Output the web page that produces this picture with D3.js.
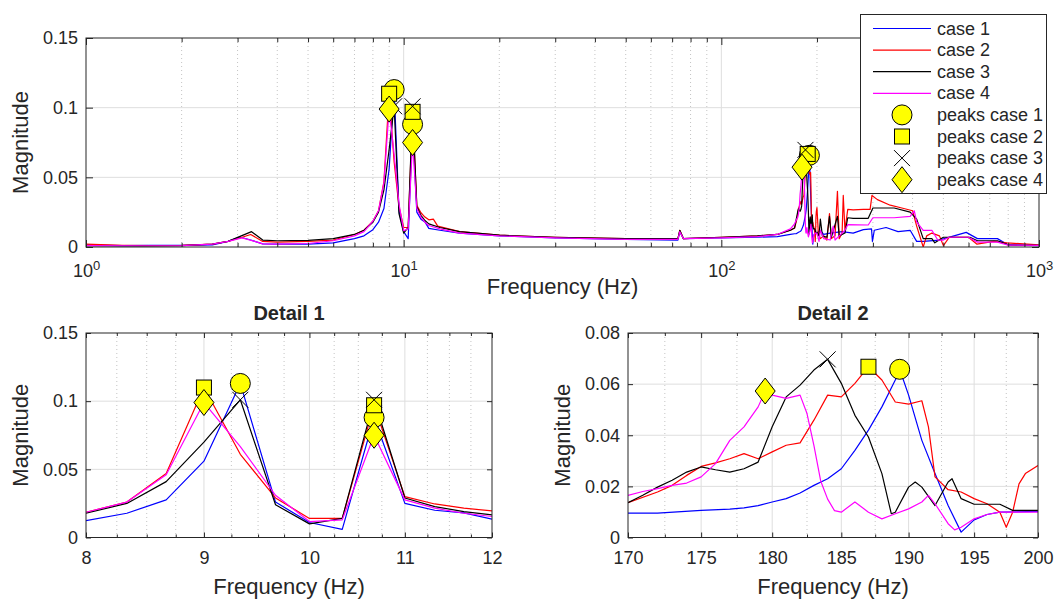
<!DOCTYPE html>
<html>
<head>
<meta charset="utf-8">
<script src="https://cdnjs.cloudflare.com/ajax/libs/d3/7.8.5/d3.min.js"></script>
<style>
  body { margin: 0; background: #fff; }
  text { font-family: "Liberation Sans", Arial, sans-serif; fill: #262626; }
</style>
</head>
<body>
<div id="graph"></div>
<script>

// ---- data: [frequency Hz, magnitude] ----
var case1 = [
  [1,0.0015],[1.3,0.001],[1.6,0.0012],[2,0.0012],[2.5,0.0015],[2.8,0.004],[3.05,0.0072],[3.3,0.005],[3.6,0.0022],
  [4,0.002],[5,0.002],[6,0.003],[7,0.006],[7.5,0.008],
  [8,0.0124],[8.333,0.0178],[8.667,0.0276],[9,0.056],[9.333,0.113],[9.667,0.026],[10,0.011],[10.333,0.006],
  [10.667,0.088],[11,0.025],[11.333,0.020],[11.667,0.018],[12,0.0134],
  [13,0.012],[15,0.01],[20,0.008],[30,0.0065],[50,0.0055],[73,0.005],[74,0.011],[76,0.006],[100,0.0065],
  [130,0.007],[150,0.0075],[165,0.009],
  [170,0.0095],[172,0.0095],[175,0.0106],[177,0.0111],[178,0.0116],[179,0.0125],[180,0.0139],[181,0.0152],
  [182,0.0174],[183,0.0204],[184,0.023],[185,0.0269],[186,0.0341],[187,0.042],[188,0.0511],[189,0.0616],
  [189.33,0.0658],[190,0.0557],[191,0.038],[192,0.025],[193,0.0125],[194,0.0021],[195,0.0069],[196,0.009],
  [197,0.0099],[200,0.0102],
  [205,0.012],[210,0.009],[220,0.01],[240,0.011],[260,0.01],[280,0.0125],[297,0.013],[299,0.004],[303,0.012],
  [330,0.014],[360,0.011],[393,0.012],[412,0.004],[432,0.004],[486,0.005],[540,0.008],[590,0.0105],
  [640,0.006],[740,0.006],[800,0.0015],[1000,0.001]
];
var case2 = [
  [1,0.002],[1.3,0.0012],[1.6,0.001],[2,0.0012],[2.5,0.002],[2.8,0.004],[3.1,0.007],[3.3,0.009],[3.6,0.004],
  [4,0.0035],[5,0.004],[6,0.005],[7,0.009],[7.5,0.012],
  [8,0.0185],[8.333,0.026],[8.667,0.047],[9,0.110],[9.333,0.061],[9.667,0.029],[10,0.014],[10.333,0.014],
  [10.667,0.097],[11,0.030],[11.333,0.0246],[11.667,0.0215],[12,0.0195],
  [12.4,0.02],[12.8,0.015],[15,0.011],[20,0.0085],[30,0.007],[50,0.006],[73,0.006],[74,0.012],[76,0.006],
  [100,0.007],[130,0.008],[150,0.009],[165,0.012],
  [170,0.0136],[172,0.0178],[173,0.0204],[174,0.0243],[175,0.0278],[176,0.0292],[177,0.0308],[178,0.0328],
  [179,0.0308],[180,0.0335],[181,0.0361],[182,0.037],[183,0.0459],[184,0.0557],[185,0.055],[186,0.0603],
  [187,0.0668],[188,0.0616],[189,0.053],[190,0.0522],[191,0.0535],[191.5,0.0433],[192,0.0237],[193,0.0187],
  [194,0.0178],[195,0.0152],[196,0.0132],[197,0.0099],[197.5,0.004],[198,0.0099],[198.5,0.021],[199,0.025],
  [200,0.0282],
  [202,0.01],[205,0.006],[210,0.008],[215,0.005],[219,0.024],[222,0.006],[228,0.008],[232,0.04],[235,0.006],
  [240,0.01],[242,0.037],[245,0.012],[250,0.027],[260,0.0266],[280,0.027],[294,0.027],[298,0.037],[310,0.034],
  [340,0.03],[370,0.028],[400,0.026],[412,0.015],[432,0.0],[443,0.008],[460,0.01],[486,0.008],[500,0.001],
  [522,0.007],[600,0.007],[638,0.002],[720,0.004],[794,0.003],[1000,0.0015]
];
var case3 = [
  [1,0.001],[1.5,0.0008],[2,0.001],[2.5,0.002],[2.8,0.004],[3.32,0.011],[3.6,0.005],[4,0.0045],[5,0.0048],
  [6,0.006],[7,0.009],[7.5,0.012],
  [8,0.0178],[8.333,0.025],[8.667,0.041],[9,0.070],[9.333,0.101],[9.667,0.024],[10,0.010],[10.333,0.014],
  [10.667,0.101],[11,0.029],[11.333,0.0227],[11.667,0.019],[12,0.0166],
  [13,0.014],[15,0.011],[20,0.0085],[30,0.007],[50,0.006],[73,0.006],[74,0.012],[76,0.006],[100,0.007],
  [130,0.008],[150,0.009],[165,0.012],
  [170,0.0136],[171,0.0165],[172,0.0197],[173,0.0224],[174,0.0256],[175,0.0276],[176,0.0265],[177,0.0256],
  [178,0.0269],[179,0.0295],[180,0.0433],[181,0.055],[182,0.0596],[183,0.0655],[184,0.0697],[185,0.0603],
  [186,0.0478],[187,0.0393],[188,0.025],[188.7,0.0093],[189,0.0099],[190,0.0197],[190.5,0.0217],[191,0.0197],
  [192,0.0125],[193,0.0217],[193.3,0.023],[194,0.0152],[195,0.013],[197,0.013],[198,0.0106],[200,0.0106],
  [203,0.008],[205,0.02],[208,0.008],[215,0.007],[219,0.022],[222,0.007],[232,0.022],[235,0.008],[245,0.01],
  [250,0.021],[260,0.0206],[290,0.0206],[300,0.028],[350,0.028],[393,0.025],[412,0.02],[432,0.006],
  [460,0.006],[470,0.003],[500,0.007],[606,0.007],[640,0.0045],[740,0.0045],[800,0.0015],[1000,0.0012]
];
var case4 = [
  [1,0.001],[1.5,0.0009],[2,0.001],[2.5,0.002],[2.8,0.004],[3.1,0.0065],[3.4,0.004],[3.6,0.0022],[4,0.002],
  [5,0.0025],[6,0.0045],[7,0.008],[7.5,0.011],
  [8,0.0185],[8.333,0.026],[8.667,0.046],[9,0.099],[9.333,0.0666],[9.667,0.031],[10,0.0117],[10.333,0.013],
  [10.667,0.075],[11,0.0276],[11.333,0.0215],[11.667,0.0178],[12,0.0154],
  [13,0.013],[15,0.01],[20,0.008],[30,0.0065],[50,0.0055],[73,0.0055],[74,0.011],[76,0.006],[100,0.0065],
  [130,0.0075],[150,0.009],[165,0.013],
  [170,0.0165],[171,0.018],[172,0.0191],[173,0.0204],[174,0.0213],[175,0.0237],[176,0.0289],[177,0.038],
  [178,0.0433],[179,0.0511],[179.5,0.0573],[180,0.0557],[181,0.0544],[182,0.0557],[182.5,0.0485],[183,0.036],
  [183.5,0.022],[184,0.015],[184.5,0.0105],[185,0.0099],[186,0.0139],[187,0.0099],[188,0.0073],[189,0.0093],
  [190,0.0112],[191,0.0139],[191.5,0.0165],[192,0.0132],[193,0.0054],[193.5,0.003],[194,0.004],[195,0.0073],
  [196,0.009],[197,0.0099],[200,0.0099],
  [203,0.004],[205,0.012],[210,0.006],[220,0.005],[225,0.015],[228,0.005],[240,0.01],[245,0.012],[250,0.016],
  [290,0.0158],[300,0.021],[350,0.021],[393,0.022],[405,0.026],[412,0.018],[432,0.012],[460,0.012],
  [480,0.005],[500,0.005],[522,0.007],[600,0.007],[640,0.0035],[740,0.0035],[800,0.0014],[1000,0.0012]
];

// detected peaks
var peaks1 = [[9.333,0.113],[10.667,0.088],[189.33,0.0658]];
var peaks2 = [[9,0.110],[10.667,0.097],[187,0.0668]];
var peaks3 = [[9.333,0.101],[10.667,0.101],[184,0.0697]];
var peaks4 = [[9,0.099],[10.667,0.075],[179.5,0.0573]];

var caseNames  = ['case 1','case 2','case 3','case 4'];
var peakNames  = ['peaks case 1','peaks case 2','peaks case 3','peaks case 4'];
var lineColors = ['#0000ff','#ff0000','#000000','#ff00ff'];
var markerKinds = ['circle','square','cross','diamond'];

// ticks
var topXTicks = [1,10,100,1000];
var topXMinor = [2,3,4,5,6,7,8,9,20,30,40,50,60,70,80,90,200,300,400,500,600,700,800,900];
var topYTicks = [0,0.05,0.1,0.15];
var d1XTicks = [8,9,10,11,12];
var d1XMinor = [8.25,8.5,8.75,9.25,9.5,9.75,10.25,10.5,10.75,11.25,11.5,11.75];
var d1YTicks = [0,0.05,0.1,0.15];
var d2XTicks = [170,175,180,185,190,195,200];
var d2XMinor = [172.5,177.5,182.5,187.5,192.5,197.5];
var d2YTicks = [0,0.02,0.04,0.06,0.08];

var width = 1059, height = 599;
var allCases = [case1, case2, case3, case4];
var allPeaks = [peaks1, peaks2, peaks3, peaks4];

var svg = d3.select('#graph').append('svg')
    .attr('width', width).attr('height', height);

var panels = [
  { id:'p0', left:86, right:1039, top:38, bottom:247, xdom:[1,1000], ydom:[0,0.15],
    xticks:topXTicks, xminor:topXMinor, yticks:topYTicks, tick:7, pow:true, title:null, xlab:47 },
  { id:'p1', left:86, right:492, top:333, bottom:537.5, xdom:[8,12], ydom:[0,0.15],
    xticks:d1XTicks, xminor:d1XMinor, yticks:d1YTicks, tick:5, pow:false, title:'Detail 1', xlab:56 },
  { id:'p2', left:628, right:1038, top:333, bottom:537.5, xdom:[170,200], ydom:[0,0.08],
    xticks:d2XTicks, xminor:d2XMinor, yticks:d2YTicks, tick:5, pow:false, title:'Detail 2', xlab:56 }
];

panels.forEach(drawPanel);
drawLegend();

function yFmt(v) { return String(+v.toFixed(3)); }

function drawPanel(p) {
  var x = d3.scaleLog().domain(p.xdom).range([p.left, p.right]);
  var y = d3.scaleLinear().domain(p.ydom).range([p.bottom, p.top]);
  var g = svg.append('g');
  var w = p.right - p.left, h = p.bottom - p.top;

  svg.append('clipPath').attr('id', 'clip-' + p.id)
    .append('rect').attr('x', p.left).attr('y', p.top).attr('width', w).attr('height', h);

  // minor grid (dotted) then major grid
  g.append('g').selectAll('line').data(p.xminor).enter().append('line')
    .attr('x1', function(d){ return x(d); }).attr('x2', function(d){ return x(d); })
    .attr('y1', p.top).attr('y2', p.bottom)
    .attr('stroke', '#c4c4c4').attr('stroke-width', 1).attr('stroke-dasharray', '1,3');
  g.append('g').selectAll('line').data(p.xticks.slice(1, -1)).enter().append('line')
    .attr('x1', function(d){ return x(d); }).attr('x2', function(d){ return x(d); })
    .attr('y1', p.top).attr('y2', p.bottom)
    .attr('stroke', '#dedede').attr('stroke-width', 1);
  g.append('g').selectAll('line').data(p.yticks.slice(1, -1)).enter().append('line')
    .attr('y1', function(d){ return y(d); }).attr('y2', function(d){ return y(d); })
    .attr('x1', p.left).attr('x2', p.right)
    .attr('stroke', '#dedede').attr('stroke-width', 1);

  // spectra
  var line = d3.line()
    .x(function(d){ return x(d[0]); })
    .y(function(d){ return y(d[1]); });
  var lines = g.append('g').attr('clip-path', 'url(#clip-' + p.id + ')');
  allCases.forEach(function(c, i) {
    var sub = c.filter(function(d){ return d[0] >= p.xdom[0] && d[0] <= p.xdom[1]; });
    lines.append('path').datum(sub)
      .attr('d', line)
      .attr('fill', 'none')
      .attr('stroke', lineColors[i])
      .attr('stroke-width', 1.2)
      .attr('stroke-linejoin', 'round');
  });

  // axes: inward ticks on all four sides
  var bottomAx = d3.axisBottom(x).tickValues(p.xticks).tickSizeInner(-p.tick).tickSizeOuter(0)
      .tickPadding(p.pow ? 17 : 14).tickFormat(function(d){ return p.pow ? '10' : String(d); });
  var gb = g.append('g').attr('transform', 'translate(0,' + p.bottom + ')').call(bottomAx);
  if (p.pow) {
    gb.selectAll('.tick text').each(function(d) {
      var t = d3.select(this);
      t.append('tspan').attr('dy', '-0.55em').attr('font-size', '13px')
        .text(Math.round(Math.log10(d)));
    });
  }
  g.append('g').attr('transform', 'translate(0,' + p.bottom + ')')
    .call(d3.axisBottom(x).tickValues(p.xminor).tickSizeInner(-p.tick * 0.6).tickSizeOuter(0).tickFormat(''));
  g.append('g').attr('transform', 'translate(0,' + p.top + ')')
    .call(d3.axisTop(x).tickValues(p.xticks).tickSizeInner(-p.tick).tickSizeOuter(0).tickFormat(''));
  g.append('g').attr('transform', 'translate(0,' + p.top + ')')
    .call(d3.axisTop(x).tickValues(p.xminor).tickSizeInner(-p.tick * 0.6).tickSizeOuter(0).tickFormat(''));
  g.append('g').attr('transform', 'translate(' + p.left + ',0)')
    .call(d3.axisLeft(y).tickValues(p.yticks).tickSizeInner(-p.tick).tickSizeOuter(0)
      .tickPadding(8).tickFormat(yFmt));
  g.append('g').attr('transform', 'translate(' + p.right + ',0)')
    .call(d3.axisRight(y).tickValues(p.yticks).tickSizeInner(-p.tick).tickSizeOuter(0).tickFormat(''));

  g.selectAll('.domain').remove();
  g.selectAll('.tick line').attr('stroke', '#262626');
  g.selectAll('.tick text').attr('font-size', '18px').attr('fill', '#262626')
    .attr('font-family', '"Liberation Sans", Arial, sans-serif');

  g.append('rect').attr('x', p.left).attr('y', p.top).attr('width', w).attr('height', h)
    .attr('fill', 'none').attr('stroke', '#262626').attr('stroke-width', 1);

  // peak markers (not clipped)
  var mk = g.append('g');
  allPeaks.forEach(function(pk, i) {
    pk.filter(function(d){ return d[0] >= p.xdom[0] && d[0] <= p.xdom[1]; })
      .forEach(function(d) { drawMarker(mk, markerKinds[i], x(d[0]), y(d[1])); });
  });

  // labels
  var cx = (p.left + p.right) / 2, cy = (p.top + p.bottom) / 2;
  g.append('text').attr('x', cx).attr('y', p.bottom + p.xlab)
    .attr('text-anchor', 'middle').attr('font-size', '22px').text('Frequency (Hz)');
  g.append('text').attr('transform', 'translate(' + (p.left - 58) + ',' + cy + ') rotate(-90)')
    .attr('text-anchor', 'middle').attr('font-size', '22px').text('Magnitude');
  if (p.title) {
    g.append('text').attr('x', cx).attr('y', p.top - 13)
      .attr('text-anchor', 'middle').attr('font-size', '20px').attr('font-weight', 'bold')
      .text(p.title);
  }
}

function drawMarker(sel, kind, cx, cy) {
  if (kind == 'circle') {
    sel.append('circle').attr('cx', cx).attr('cy', cy).attr('r', 10)
      .attr('fill', '#ffff00').attr('stroke', '#000').attr('stroke-width', 1);
  } else if (kind == 'square') {
    sel.append('rect').attr('x', cx - 7.5).attr('y', cy - 7.5).attr('width', 15).attr('height', 15)
      .attr('fill', '#ffff00').attr('stroke', '#000').attr('stroke-width', 1);
  } else if (kind == 'diamond') {
    sel.append('path')
      .attr('d', 'M' + cx + ',' + (cy - 13) + 'L' + (cx + 10) + ',' + cy + 'L' + cx + ',' + (cy + 13) +
                 'L' + (cx - 10) + ',' + cy + 'Z')
      .attr('fill', '#ffff00').attr('stroke', '#000').attr('stroke-width', 1);
  } else {
    sel.append('path')
      .attr('d', 'M' + (cx - 8) + ',' + (cy - 8) + 'L' + (cx + 8) + ',' + (cy + 8) +
                 'M' + (cx - 8) + ',' + (cy + 8) + 'L' + (cx + 8) + ',' + (cy - 8))
      .attr('fill', 'none').attr('stroke', '#000').attr('stroke-width', 1);
  }
}

function drawLegend() {
  var lg = svg.append('g');
  lg.append('rect').attr('x', 860.5).attr('y', 14.5).attr('width', 186).attr('height', 179)
    .attr('fill', '#fff').attr('stroke', '#262626').attr('stroke-width', 1);
  var items = caseNames.map(function(n, i){ return { name:n, color:lineColors[i], kind:null }; })
    .concat(peakNames.map(function(n, i){ return { name:n, color:null, kind:markerKinds[i] }; }));
  items.forEach(function(it, i) {
    var yy = 28.5 + i * 21.6;
    if (it.kind == null) {
      lg.append('line').attr('x1', 873).attr('x2', 931).attr('y1', yy).attr('y2', yy)
        .attr('stroke', it.color).attr('stroke-width', 1.2);
    } else {
      drawMarker(lg, it.kind, 902, yy);
    }
    lg.append('text').attr('x', 937).attr('y', yy + 6).attr('font-size', '18px').text(it.name);
  });
}

</script>
</body>
</html>
